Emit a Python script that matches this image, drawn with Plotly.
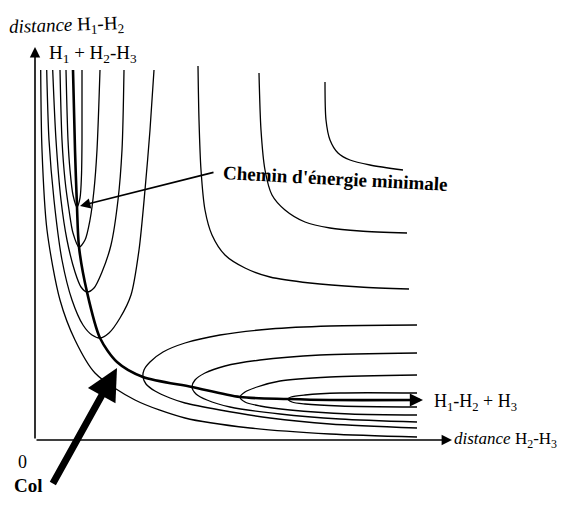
import plotly.graph_objects as go

# ---- contour lines (distance H2-H3 on x, distance H1-H2 on y) ----
wall_x = [5.7, 7, 12, 25, 40, 60, 100, 150, 215, 295, 382]
wall_y = [370, 290, 210, 140, 100, 67, 40, 22, 12, 6, 3]

entry_d_x = [11.7, 14, 19, 27, 37, 48, 57, 65, 74, 85, 96, 104, 110, 115, 119]
entry_d_y = [370, 300, 240, 180, 140, 115, 105, 102, 107, 122, 145, 190, 250, 310, 370]

entry_c_x = [17.7, 21, 26, 32, 40, 46, 52, 59, 67, 76, 83, 87, 89]
entry_c_y = [370, 300, 240, 200, 168, 153, 148, 152, 168, 195, 240, 290, 370]

entry_b_x = [25, 27, 30, 34, 38, 44, 50, 55, 59, 62, 65]
entry_b_y = [370, 300, 260, 230, 207, 193, 200, 220, 250, 290, 370]

entry_a_x = [31, 33, 35, 38, 42, 45, 46.5, 47, 47]
entry_a_y = [370, 300, 270, 245, 233, 242, 265, 300, 370]

exit_d_x = [382, 295, 235, 185, 150, 128, 115, 109, 108, 111, 120, 135, 150, 185, 235, 295, 382]
exit_d_y = [115, 114, 111, 105, 97, 88, 78, 70, 63, 56, 49, 42, 37, 30, 22, 16, 12]

exit_c_x = [382, 285, 225, 190, 170, 160, 157, 161, 172, 195, 245, 305, 382]
exit_c_y = [87, 85, 80, 74, 67, 60, 53, 46, 40, 33, 26, 21, 18]

exit_b_x = [382, 295, 245, 222, 210, 205, 210, 225, 255, 315, 382]
exit_b_y = [65, 63, 59, 53, 48, 43, 38, 34, 30, 26, 25]

exit_a_x = [382, 305, 270, 256, 253, 257, 270, 305, 382]
exit_a_y = [47, 47, 45, 43, 41, 38, 36, 34, 33]

plateau_1_x = [163, 164, 166, 170, 177, 190, 210, 235, 275, 325, 374]
plateau_1_y = [374, 320, 270, 230, 205, 185, 172, 163, 157, 153, 151]

plateau_2_x = [224, 226, 230, 237, 250, 270, 295, 325, 372]
plateau_2_y = [367, 310, 270, 245, 230, 218, 212, 209, 207]

plateau_3_x = [290, 291, 295, 303, 315, 335, 368]
plateau_3_y = [358, 320, 300, 287, 280, 275, 270]

# minimum energy path
path_x = [38, 40, 42, 44, 52, 65, 82, 108, 157, 205, 253, 295, 385]
path_y = [370, 290, 233, 193, 148, 102, 78, 63, 53, 43, 41, 40, 40]

contours = [
    (wall_x, wall_y), (entry_d_x, entry_d_y), (entry_c_x, entry_c_y),
    (entry_b_x, entry_b_y), (entry_a_x, entry_a_y),
    (exit_d_x, exit_d_y), (exit_c_x, exit_c_y), (exit_b_x, exit_b_y),
    (exit_a_x, exit_a_y),
    (plateau_1_x, plateau_1_y), (plateau_2_x, plateau_2_y), (plateau_3_x, plateau_3_y),
]

fig = go.Figure()
for cx, cy in contours:
    fig.add_trace(go.Scatter(x=cx, y=cy, mode="lines",
                             line=dict(color="black", width=1.3, shape="spline", smoothing=0.8),
                             hoverinfo="skip"))
fig.add_trace(go.Scatter(x=path_x, y=path_y, mode="lines",
                         line=dict(color="black", width=2.6, shape="spline", smoothing=0.8),
                         hoverinfo="skip"))

serif = "Liberation Serif"

def arrow(x, y, ax, ay, width, size=1.0, head=2):
    fig.add_annotation(x=x, y=y, ax=ax, ay=ay, xref="x", yref="y", axref="x", ayref="y",
                       text="", showarrow=True, arrowhead=head, arrowsize=size,
                       arrowwidth=width, arrowcolor="black")

# axes
arrow(0, 393, 0, 0, 1.6, 1.3)
arrow(417, 0, 0, 0, 1.6, 1.3)
# end of minimum energy path
arrow(388, 40, 370, 40, 2.2, 1.2)
# annotation arrows
arrow(45, 234, 180, 268, 1.6, 1.3)
arrow(82, 72, 17, -45, 7, 0.9)

def label(x, y, text, size=19, angle=0, anchor="left"):
    fig.add_annotation(x=x, y=y, xref="x", yref="y", text=text, showarrow=False,
                       xanchor=anchor, yanchor="middle", textangle=angle,
                       font=dict(family=serif, size=size, color="black"))

label(31, 414, "<i>distance</i> H<sub>1</sub>-H<sub>2</sub>", 19, -2, "center")
label(12, 386, "H<sub>1</sub> + H<sub>2</sub>-H<sub>3</sub>", 19)
label(186, 262, "<b>Chemin d'énergie minimale</b>", 19, 3)
label(397, 38, "H<sub>1</sub>-H<sub>2</sub> + H<sub>3</sub>", 18)
label(524, 0, "<i>distance</i> H<sub>2</sub>-H<sub>3</sub>", 17, 0, "right")
label(-13, -22, "0", 18, 0, "center")
label(-7, -45, "<b>Col</b>", 19, 0, "center")

# the page adds an 8 px body margin on every side, so the figure is 16 px smaller
# than the window and its ranges start 8 px in
fig.update_layout(
    width=552, height=490,
    margin=dict(l=0, r=0, t=0, b=0),
    paper_bgcolor="white", plot_bgcolor="white",
    showlegend=False,
    xaxis=dict(range=[-27, 525], visible=False, fixedrange=True),
    yaxis=dict(range=[-58, 432], visible=False, fixedrange=True),
)

fig.write_html("out.html")
